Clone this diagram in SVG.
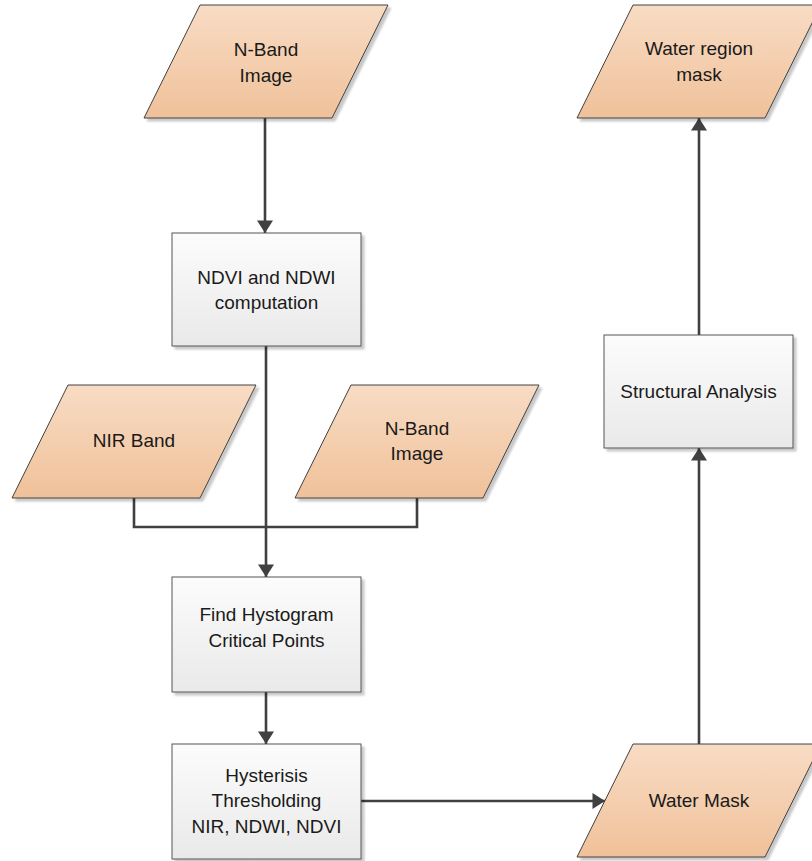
<svg xmlns="http://www.w3.org/2000/svg" width="812" height="861" viewBox="0 0 812 861">
<defs>
<linearGradient id="peach" x1="0" y1="0" x2="0" y2="1">
<stop offset="0" stop-color="#f8dcc4"/>
<stop offset="1" stop-color="#f0c19a"/>
</linearGradient>
<linearGradient id="gray" x1="0" y1="0" x2="0" y2="1">
<stop offset="0" stop-color="#fcfcfc"/>
<stop offset="1" stop-color="#e9e9e9"/>
</linearGradient>
<filter id="shadow" x="-10%" y="-10%" width="130%" height="130%">
<feGaussianBlur in="SourceAlpha" stdDeviation="1.2"/>
<feOffset dx="3" dy="3" result="b"/>
<feComponentTransfer><feFuncA type="linear" slope="0.22"/></feComponentTransfer>
<feMerge><feMergeNode/><feMergeNode in="SourceGraphic"/></feMerge>
</filter>
<marker id="arrow" markerUnits="userSpaceOnUse" markerWidth="16" markerHeight="16" viewBox="0 0 16 16" refX="13" refY="8" orient="auto">
<path d="M0.5,0 L13,8 L0.5,16 Z" fill="#404040"/>
</marker>
</defs>
<style>
.io { fill: url(#peach); stroke: #404040; stroke-width: 1; filter: url(#shadow); }
.proc { fill: url(#gray); stroke: #555555; stroke-width: 1; filter: url(#shadow); }
.t { font-family: "Liberation Sans", Arial, sans-serif; font-size: 19px; fill: #1a1a1a; text-anchor: middle; }
.c { fill: none; stroke: #404040; stroke-width: 2.6; }
</style>

<g id="connectors">
<line class="c" x1="265" y1="118" x2="265" y2="233" marker-end="url(#arrow)"/>
<line class="c" x1="266" y1="346" x2="266" y2="577" marker-end="url(#arrow)"/>
<polyline class="c" points="134,498 134,527 417,527 417,498"/>
<line class="c" x1="266" y1="692" x2="266" y2="744" marker-end="url(#arrow)"/>
<line class="c" x1="361" y1="801" x2="605" y2="801" marker-end="url(#arrow)"/>
<line class="c" x1="699" y1="744" x2="699" y2="448" marker-end="url(#arrow)"/>
<line class="c" x1="699" y1="335" x2="699" y2="118" marker-end="url(#arrow)"/>
</g>

<g id="nband-top">
<polygon class="io" points="200,5 388,5 332,118 144,118"/>
<text class="t" x="266" y="56">N-Band</text>
<text class="t" x="266" y="82">Image</text>
</g>

<g id="ndvi-ndwi">
<rect class="proc" x="172" y="233" width="189" height="113"/>
<text class="t" x="266.5" y="284">NDVI and NDWI</text>
<text class="t" x="266.5" y="309">computation</text>
</g>

<g id="nir-band">
<polygon class="io" points="68,385 256,385 200,498 12,498"/>
<text class="t" x="134" y="447">NIR Band</text>
</g>

<g id="nband-mid">
<polygon class="io" points="351,385 539,385 483,498 295,498"/>
<text class="t" x="417" y="435">N-Band</text>
<text class="t" x="417" y="460">Image</text>
</g>

<g id="find-hist">
<rect class="proc" x="172" y="577" width="189" height="115"/>
<text class="t" x="266.5" y="621">Find Hystogram</text>
<text class="t" x="266.5" y="647">Critical Points</text>
</g>

<g id="hysteresis">
<rect class="proc" x="172" y="744" width="189" height="115"/>
<text class="t" x="266.5" y="782">Hysterisis</text>
<text class="t" x="266.5" y="807">Thresholding</text>
<text class="t" x="266.5" y="833">NIR, NDWI, NDVI</text>
</g>

<g id="water-mask">
<polygon class="io" points="633,744 821,744 765,857 577,857"/>
<text class="t" x="699" y="807">Water Mask</text>
</g>

<g id="structural">
<rect class="proc" x="604" y="335" width="189" height="113"/>
<text class="t" x="698.5" y="398">Structural Analysis</text>
</g>

<g id="water-region">
<polygon class="io" points="633,5 821,5 765,118 577,118"/>
<text class="t" x="699" y="55">Water region</text>
<text class="t" x="699" y="81">mask</text>
</g>
</svg>
